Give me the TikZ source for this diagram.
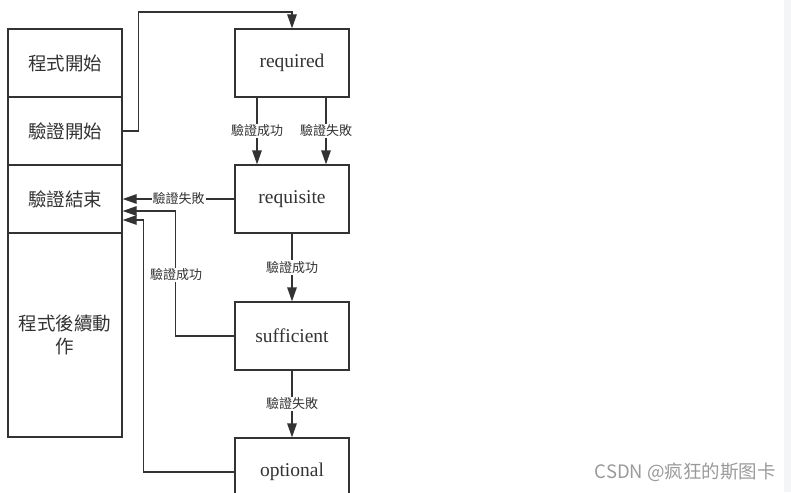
\documentclass[tikz,border=0pt]{standalone}
\usepackage{fontspec}
\setmainfont{Liberation Serif}
\newfontfamily\cjk{Noto Sans CJK TC}
\newfontfamily\cjksc{Noto Sans CJK SC}
\usetikzlibrary{arrows.meta,calc}
\definecolor{linegray}{HTML}{333333}
\definecolor{txtgray}{HTML}{333333}
\definecolor{wmgray}{HTML}{9A9A9A}
\definecolor{stripgray}{HTML}{F4F5F7}
\tikzset{
  box/.style={draw=linegray, line width=1.3pt, minimum width=114pt, minimum height=68pt,
    inner sep=0pt, text=txtgray, align=center},
  cbox/.style={box, font=\cjk\fontsize{18.5}{23}\selectfont},
  ebox/.style={box, font=\fontsize{19.5}{22}\selectfont},
  arr/.style={draw=linegray, line width=1.3pt, -{Triangle[length=14pt,width=9.5pt]}},
  lbl/.style={fill=white, inner sep=1pt, text=txtgray, font=\cjk\fontsize{13}{15}\selectfont}
}
\begin{document}
\begin{tikzpicture}[x=1pt,y=-1pt]
\useasboundingbox (0,0) rectangle (791,492);
\clip (0,0) rectangle (791,492);
\fill[stripgray] (784,0) rectangle (791,492);
% left column
\node[cbox] (b1) at (65,63) {程式開始};
\node[cbox] (b2) at (65,131) {驗證開始};
\node[cbox] (b3) at (65,199) {驗證結束};
\node[cbox, minimum height=204pt] (b4) at (65,335) {程式後續動\\作};
% right column
\node[ebox] (req) at (292,63) {required};
\node[ebox] (rqs) at (292,199) {requisite};
\node[ebox] (suf) at (292,336) {sufficient};
\node[ebox] (opt) at (292,472) {optional};
\coordinate (top) at (0,12);
% connectors
\draw[arr] (b2.east) -- ++(16,0) |- (req.north |- top) -- (req.north);
\draw[arr] ([xshift=-35pt]req.south) -- ([xshift=-35pt]rqs.north) node[midway,lbl] {驗證成功};
\draw[arr] ([xshift=34pt]req.south) -- ([xshift=34pt]rqs.north) node[midway,lbl] {驗證失敗};
\draw[arr] (rqs.west) -- (b3.east) node[midway,lbl] {驗證失敗};
\draw[arr] (rqs.south) -- (suf.north) node[midway,lbl] {驗證成功};
\draw[arr] (suf.west) -- ++(-59,0) |- ([yshift=-12pt]b3.east);
\node[lbl] (l5) at (176,275) {驗證成功};
\draw[arr] (suf.south) -- (opt.north) node[midway,lbl] {驗證失敗};
\draw[arr] (opt.west) -- ++(-91,0) |- ([yshift=-21pt]b3.east);
% watermark
\node[text=wmgray, font=\cjksc\fontsize{18.5}{22}\selectfont, anchor=east, inner sep=0pt] (wm) at (776,472) {CSDN @疯狂的斯图卡};
\end{tikzpicture}
\end{document}
